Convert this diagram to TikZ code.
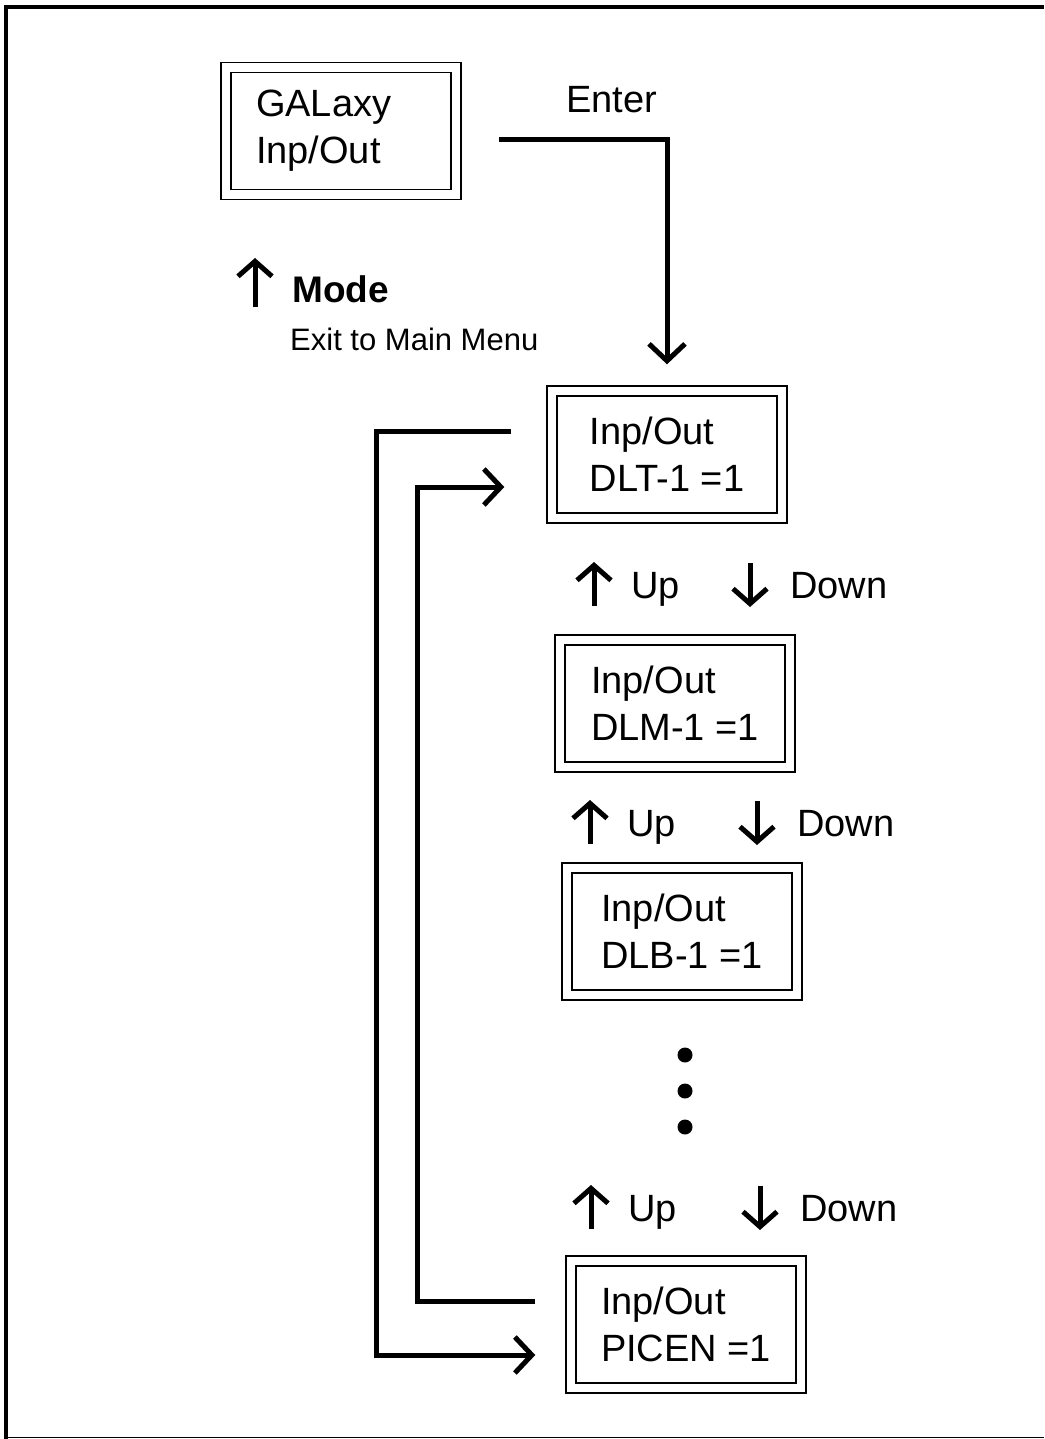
\documentclass[tikz,border=0pt]{standalone}
\usepackage{fontspec}
\setmainfont{Liberation Sans}
\usetikzlibrary{arrows.meta}
\tikzset{
  iobox/.style={draw, double, line width=1.4pt, double distance=8.6pt,
    minimum width=230pt, minimum height=127pt, inner sep=0pt, align=left,
    font=\fontsize{38}{47}\selectfont},
  flow/.style={line width=5pt, -{Straight Barb[length=17pt,width=36pt]}},
  keyarrow/.style={line width=5pt, -{Straight Barb[length=15pt,width=34pt]}},
  lbl/.style={inner sep=0pt, anchor=base west, font=\fontsize{38}{47}\selectfont},
  dot/.style={circle, fill, inner sep=0pt, minimum size=15pt}
}
\begin{document}
\begin{tikzpicture}[x=1pt, y=-1pt]
  \useasboundingbox (0,0) rectangle (1044,1439);
  % frame
  \draw[line width=4pt] (6,1439) -- (6,7) -- (1044,7);
  \draw[line width=1.3pt] (6,1437.5) -- (1044,1437.5);

  % menu boxes
  \node[iobox, text width=170pt] (galaxy) at (341,131) {GALaxy\\Inp/Out};
  \node[iobox] (dlt) at (667,454.5) {Inp/Out\\DLT-1 =1};
  \node[iobox] (dlm) at (675,703.5) {Inp/Out\\DLM-1 =1};
  \node[iobox] (dlb) at (682,931.5) {Inp/Out\\DLB-1 =1};
  \node[iobox] (picen) at (686,1324.5) {Inp/Out\\PICEN =1};
  \foreach \y [count=\i] in {1055,1091,1127}
    \node[dot] (dot\i) at (685,\y) {};

  % keys
  \node[lbl] (enter) at (566,113) {Enter};
  \node[lbl, font=\fontsize{37}{46}\selectfont\bfseries] (mode) at (292,302) {Mode};
  \node[lbl, font=\fontsize{31}{36}\selectfont] (exit) at (290,350) {Exit to Main Menu};
  \draw[keyarrow] ([shift={(-37,5)}]mode.base west) -- ++(0,-49);
  \foreach \n/\ux/\dx/\by in {1/631/790/598, 2/627/797/836, 3/628/800/1221} {
    \node[lbl] (up\n) at (\ux,\by) {Up};
    \node[lbl] (down\n) at (\dx,\by) {Down};
    \draw[keyarrow] ([shift={(-37,8)}]up\n.base west) -- ++(0,-44);
    \draw[keyarrow] ([shift={(-40,-35)}]down\n.base west) -- ++(0,44);
  }

  % connectors
  \draw[flow] ([shift={(42,9)}]galaxy.east) -| ([yshift=26pt]dlt.north);
  \draw[flow] ([shift={(-40,-23.5)}]dlt.west) -- ++(-135,0) |- ([shift={(-35,30.5)}]picen.west);
  \draw[flow] ([shift={(-35,-23.5)}]picen.west) -- ++(-118,0) |- ([shift={(-47,32.5)}]dlt.west);
\end{tikzpicture}
\end{document}
